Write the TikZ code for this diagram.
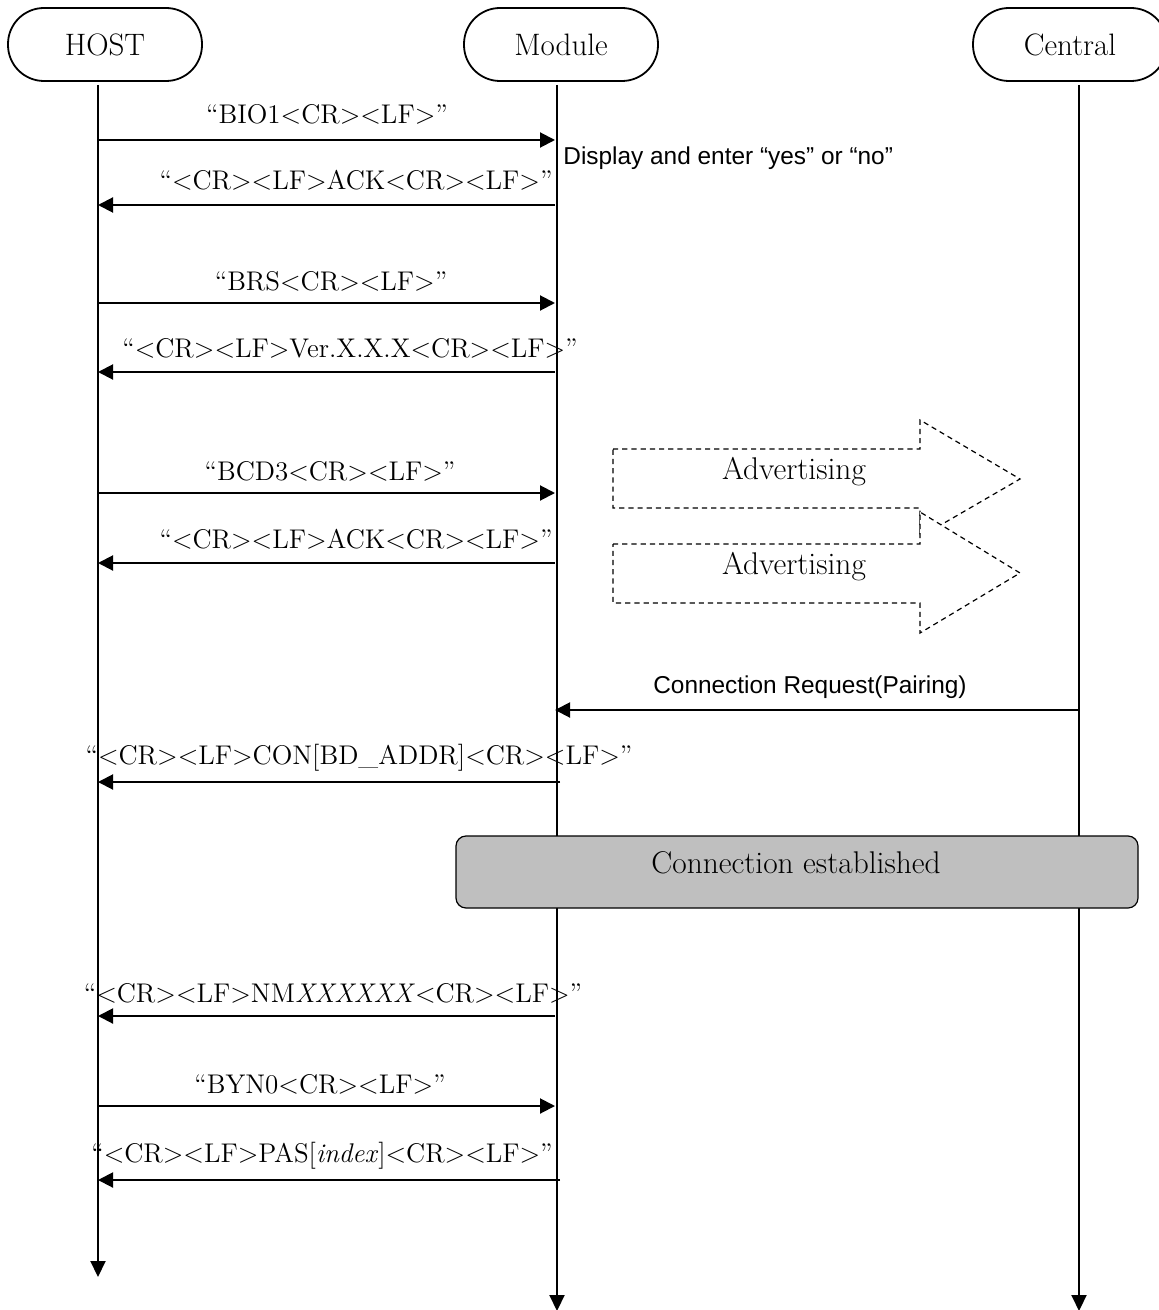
\documentclass[tikz,border=0pt]{standalone}
\usepackage{fontspec}
\newfontfamily\arialfont{Liberation Sans}
\usetikzlibrary{arrows.meta}
\begin{document}
\begin{tikzpicture}[x=0.5pt,y=-0.5pt,
  every node/.style={inner sep=0pt, font=\fontsize{13.5}{15}\selectfont},
  actor/.style={draw, line width=0.9pt, rounded corners=18pt, minimum width=97pt, minimum height=36.5pt, font=\fontsize{15.5}{17}\selectfont},
  life/.style={line width=1pt, -{Triangle[length=8pt,width=7.5pt]}},
  msg/.style={line width=1pt, -{Triangle[length=7.5pt,width=7.5pt]}},
  lbl/.style={font=\fontsize{13.5}{15}\selectfont},
  big/.style={font=\fontsize{15.7}{17}\selectfont},
  sans/.style={font=\arialfont\fontsize{12.2}{14}\selectfont},
  adv/.style={draw, dashed, dash pattern=on 2.6pt off 2pt, line width=0.6pt, fill=white},
  estab/.style={draw, line width=0.6pt, fill=black!25, rounded corners=5pt, minimum width=341pt, minimum height=36pt}]
\useasboundingbox (0,0) rectangle (1159,1310);

% actors
\node[actor] (host) at (105,44.5) {HOST};
\node[actor] (module) at (561,44.5) {Module};
\node[actor] (central) at (1070,44.5) {Central};

% lifeline endpoints
\coordinate (h0) at (98,85);   \coordinate (h1) at (98,1277);
\coordinate (m0) at (557,85);  \coordinate (m1) at (557,1311);
\coordinate (c0) at (1079,85); \coordinate (c1) at (1079,1311);
\draw[life] (h0) -- (h1);
\draw[life] (m0) -- (m1);
\draw[life] (c0) -- (c1);

% message endpoints
\foreach \n/\y in {a/140,b/205,c/303,d/372,e/493,f/563,h/782,i/1016,j/1106,k/1180}{
  \coordinate (H\n) at (98,\y);
  \coordinate (M\n) at (555,\y);
}
\coordinate (Mg) at (555,710);
\coordinate (Cg) at (1079,710);
\coordinate (Mh2) at (560,782);
\coordinate (Mk2) at (560,1180);

% messages
\draw[msg] (Ha) -- (Ma);
\node[lbl] (la) at (327,114) {“BIO1<CR><LF>”};
\node[sans, anchor=west] (disp) at (563,158) {Display and enter “yes” or “no”};

\draw[msg] (Mb) -- (Hb);
\node[lbl] (lb) at (356,180) {“<CR><LF>ACK<CR><LF>”};

\draw[msg] (Hc) -- (Mc);
\node[lbl] (lc) at (331,281) {“BRS<CR><LF>”};

\draw[msg] (Md) -- (Hd);
\node[lbl] (ld) at (350,348) {“<CR><LF>Ver.X.X.X<CR><LF>”};

\draw[msg] (He) -- (Me);
\node[lbl] (le) at (330,471) {“BCD3<CR><LF>”};

\draw[msg] (Mf) -- (Hf);
\node[lbl] (lf) at (356,539) {“<CR><LF>ACK<CR><LF>”};

% advertising arrows
\draw[adv] (613,449) -- (920,449) -- (920,420) -- (1020,479) -- (920,537) -- (920,508) -- (613,508) -- cycle;
\node[big] (adv1) at (794,472) {Advertising};
\draw[adv] (613,544) -- (920,544) -- (920,512) -- (1020,573) -- (920,633) -- (920,603) -- (613,603) -- cycle;
\node[big] (adv2) at (794,567) {Advertising};

\draw[msg] (Cg) -- (Mg);
\node[sans] (lg) at (810,687) {Connection Request(Pairing)};

\draw[msg] (Mh2) -- (Hh);
\node[lbl] (lh) at (359,758) {“<CR><LF>CON[BD\_ADDR]<CR><LF>”};

% connection established
\node[estab] (est) at (797,872) {};
\node[big] (estt) at (796,863) {Connection established};

\draw[msg] (Mi) -- (Hi);
\node[lbl] (li) at (333,993) {“<CR><LF>NM\textit{XXXXXX}<CR><LF>”};

\draw[msg] (Hj) -- (Mj);
\node[lbl] (lj) at (320,1084) {“BYN0<CR><LF>”};

\draw[msg] (Mk2) -- (Hk);
\node[lbl] (lk) at (322,1156) {“<CR><LF>PAS[\textit{index}]<CR><LF>”};
\end{tikzpicture}
\end{document}
